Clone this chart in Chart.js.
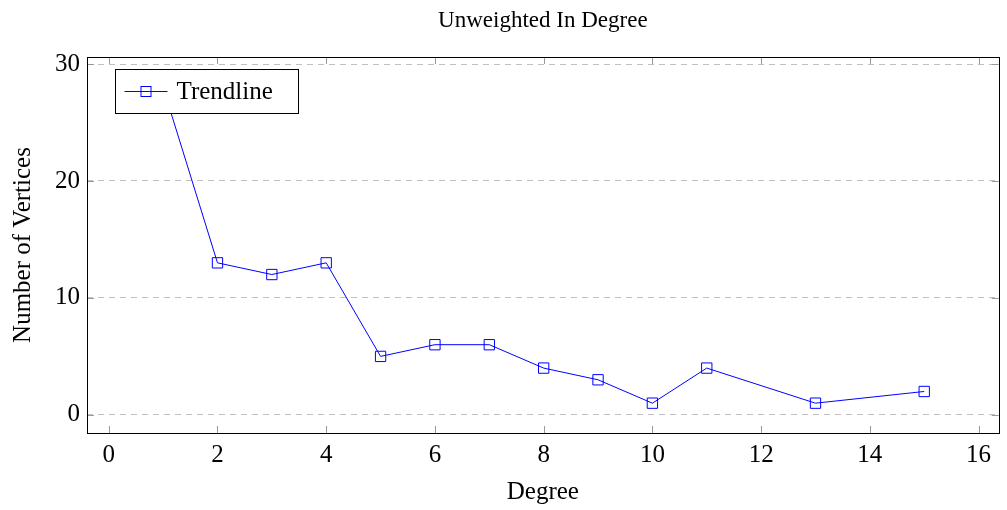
<!DOCTYPE html>
<html>
<head>
<meta charset="utf-8">
<script src="https://cdn.jsdelivr.net/npm/chart.js@4"></script>
<style>
  html, body { margin: 0; padding: 0; background: #fff; }
  #wrap { width: 1007px; height: 510px; }
</style>
</head>
<body>
<div id="wrap"><canvas id="Chart"></canvas></div>
<script>
const degrees = [1, 2, 3, 4, 5, 6, 7, 8, 9, 10, 11, 13, 15];
const vertexCounts = [28, 13, 12, 13, 5, 6, 6, 4, 3, 1, 4, 1, 2];
const xTicks = [0, 2, 4, 6, 8, 10, 12, 14, 16];
const yTicks = [0, 10, 20, 30];
const seriesLabel = "Trendline";
const chartTitle = "Unweighted In Degree";

const SERIF = "'Liberation Serif', 'DejaVu Serif', serif";
const BLUE = "#0000ff";

// title centred over the plot box rather than the whole canvas
const plotTitlePlugin = {
  id: "plotTitle",
  afterDraw(chart) {
    const { ctx, chartArea: a } = chart;
    ctx.save();
    ctx.fillStyle = "#000";
    ctx.font = "23px " + SERIF;
    ctx.textAlign = "center";
    ctx.textBaseline = "middle";
    ctx.fillText(chartTitle, (a.left + a.right) / 2, 21);
    ctx.restore();
  }
};

// pgfplots-style frame: full box plus short inward ticks on all sides
const framePlugin = {
  id: "frame",
  afterDraw(chart) {
    const { ctx, chartArea: a, scales } = chart;
    ctx.save();
    ctx.strokeStyle = "#999";
    ctx.lineWidth = 1;
    ctx.beginPath();
    xTicks.forEach((v) => {
      const px = Math.round(scales.x.getPixelForValue(v)) + 0.5;
      ctx.moveTo(px, a.bottom); ctx.lineTo(px, a.bottom - 7);
      ctx.moveTo(px, a.top); ctx.lineTo(px, a.top + 7);
    });
    yTicks.forEach((v) => {
      const py = Math.round(scales.y.getPixelForValue(v)) + 0.5;
      ctx.moveTo(a.left, py); ctx.lineTo(a.left + 7, py);
      ctx.moveTo(a.right, py); ctx.lineTo(a.right - 7, py);
    });
    ctx.stroke();
    ctx.strokeStyle = "#000";
    ctx.strokeRect(Math.round(a.left) + 0.5, Math.round(a.top) + 0.5,
      Math.round(a.right - a.left), Math.round(a.bottom - a.top));
    ctx.restore();
  }
};

// boxed legend sitting inside the plot, top-left corner
const legendBoxPlugin = {
  id: "legendBox",
  afterDatasetsDraw(chart) {
    const { ctx, chartArea: a } = chart;
    const x = Math.round(a.left) + 28.5, y = Math.round(a.top) + 12.5;
    const w = 183, h = 44;
    ctx.save();
    ctx.fillStyle = "#fff";
    ctx.fillRect(x, y, w, h);
    ctx.strokeStyle = "#000";
    ctx.lineWidth = 1;
    ctx.strokeRect(x, y, w, h);
    const my = y + h / 2;
    ctx.strokeStyle = BLUE;
    ctx.beginPath();
    ctx.moveTo(x + 9, my); ctx.lineTo(x + 52, my);
    ctx.stroke();
    ctx.strokeRect(x + 25.5, my - 5, 10, 10);
    ctx.fillStyle = "#000";
    ctx.font = "25px " + SERIF;
    ctx.textBaseline = "middle";
    ctx.fillText(seriesLabel, x + 61, my + 1);
    ctx.restore();
  }
};

new Chart("Chart", {
  type: "scatter",
  data: {
    datasets: [
      {
        label: seriesLabel,
        data: degrees.map((d, i) => ({ x: d, y: vertexCounts[i] })),
        showLine: true,
        borderColor: BLUE,
        borderWidth: 1,
        pointStyle: "rect",
        pointRadius: 7.3,
        pointBackgroundColor: "rgba(0,0,0,0)",
        pointBorderColor: BLUE,
        pointBorderWidth: 1,
      },
    ],
  },
  options: {
    responsive: true,
    maintainAspectRatio: false,
    animation: false,
    layout: { padding: { left: 0, right: 0, top: 57, bottom: 0 } },
    plugins: {
      legend: { display: false },
      tooltip: { enabled: false },
      title: { display: false },
    },
    scales: {
      x: {
        type: "linear",
        min: -0.4,
        max: 16.37,
        afterBuildTicks: (axis) => { axis.ticks = xTicks.map((v) => ({ value: v })); },
        afterFit: (scale) => {
          scale.height = 77;
          scale.paddingLeft = 0;
          scale.paddingRight = 0;
        },
        grid: { drawOnChartArea: false, drawTicks: false },
        border: { display: false },
        ticks: { color: "#000", padding: 7, font: { family: SERIF, size: 25 } },
        title: {
          display: true,
          text: "Degree",
          color: "#000",
          font: { family: SERIF, size: 25 },
          padding: { top: 0, bottom: 3 },
        },
      },
      y: {
        type: "linear",
        min: -1.55,
        max: 30.6,
        afterBuildTicks: (axis) => { axis.ticks = yTicks.map((v) => ({ value: v })); },
        afterFit: (scale) => {
          scale.width = 87;
          scale.paddingTop = 0;
          scale.paddingBottom = 0;
        },
        grid: {
          drawTicks: false,
          color: "#c0c0c0",
          lineWidth: 1,
        },
        border: { display: false, dash: [6, 5] },
        ticks: { color: "#000", padding: 7, font: { family: SERIF, size: 25 } },
        title: {
          display: true,
          text: "Number of Vertices",
          color: "#000",
          font: { family: SERIF, size: 25 },
          padding: { top: 8, bottom: 0 },
        },
      },
    },
  },
  plugins: [plotTitlePlugin, framePlugin, legendBoxPlugin],
});
</script>
</body>
</html>
